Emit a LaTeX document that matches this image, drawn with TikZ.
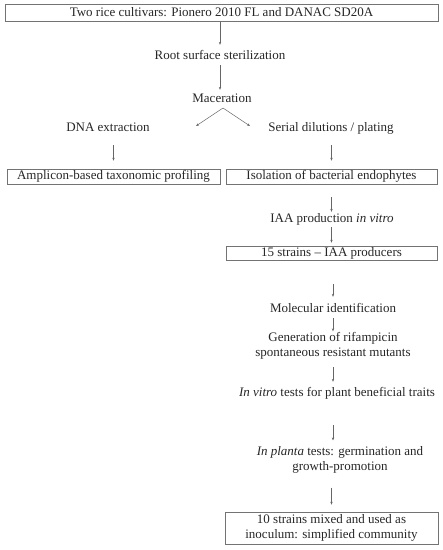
\documentclass[tikz,border=0pt]{standalone}
\usepackage{fontspec}
\setmainfont{Liberation Serif}
\usetikzlibrary{arrows.meta}
\begin{document}
\begin{tikzpicture}[x=1pt,y=-1pt,
  txt/.style={inner sep=0pt,font=\fontsize{13}{15}\selectfont,align=center,text=black!85},
  one/.style={txt,text height=9pt,text depth=3pt},
  boxed/.style={txt,draw=black!55,line width=0.6pt},
  arr/.style={draw=black!60,line width=0.45pt,-{Stealth[length=3pt,width=2.4pt]}}]
\useasboundingbox (0,0) rectangle (443,550);
\node[boxed,minimum width=433pt,minimum height=17pt] (top) at (221.5,12.5) {Two rice cultivars: Pionero 2010 FL and DANAC SD20A};
\node[one] (root) at (220,56) {Root surface sterilization};
\node[one] (mac) at (222,99) {Maceration};
\node[one] (dna) at (108,128) {DNA extraction};
\node[one] (ser) at (331,128) {Serial dilutions / plating};
\node[boxed,minimum width=213pt,minimum height=15pt] (amp) at (113.5,176.5) {Amplicon-based taxonomic profiling};
\node[boxed,minimum width=211pt,minimum height=15pt] (iso) at (331.5,176.5) {Isolation of bacterial endophytes};
\node[one] (iaa) at (332,219) {IAA production \textit{in vitro}};
\node[boxed,minimum width=211pt,minimum height=14pt] (s15) at (331.5,253) {15 strains -- IAA producers};
\node[one] (mol) at (333,309) {Molecular identification};
\node[txt] (gen) at (333,345.5) {Generation of rifampicin\\spontaneous resistant mutants};
\node[one] (inv) at (337,393) {\textit{In vitro} tests for plant beneficial traits};
\node[txt] (inp) at (340,460) {\textit{In planta} tests: germination and\\growth-promotion};
\node[boxed,minimum width=213pt,minimum height=32pt] (ten) at (331.5,528) {10 strains mixed and used as\\inoculum: simplified community};
\coordinate (mapex) at (223,108);
\coordinate (mleft) at (196,126);
\coordinate (mright) at (250,126);
\draw[arr,shorten <=1pt,shorten >=5pt] (top.south -| root) -- (root.north);
\draw[arr,shorten <=3pt,shorten >=3pt] (root.south) -- (mac.north -| root);
\draw[arr] (mapex) -- (mleft);
\draw[arr] (mapex) -- (mright);
\draw[arr,shorten <=11pt,shorten >=8pt] (dna.south -| amp) -- (amp.north);
\draw[arr,shorten <=11pt,shorten >=8pt] (ser.south -| iso) -- (iso.north);
\draw[arr,shorten <=13pt,shorten >=1pt] (iso.south) -- (iaa.north -| iso);
\draw[arr,shorten <=2pt,shorten >=3pt] (iaa.south -| s15) -- (s15.north);
\draw[arr,shorten <=24pt,shorten >=6pt] (s15.south -| mol) -- (mol.north);
\draw[arr,shorten <=3pt,shorten >=0.5pt] (mol.south) -- (gen.north);
\draw[arr,shorten <=8pt,shorten >=5pt] (gen.south) -- (inv.north -| gen);
\draw[arr,shorten <=26pt,shorten >=6pt] (inv.south -| gen) -- (inp.north -| gen);
\draw[arr,shorten <=14pt,shorten >=7pt] (inp.south -| ten) -- (ten.north);
\end{tikzpicture}
\end{document}
